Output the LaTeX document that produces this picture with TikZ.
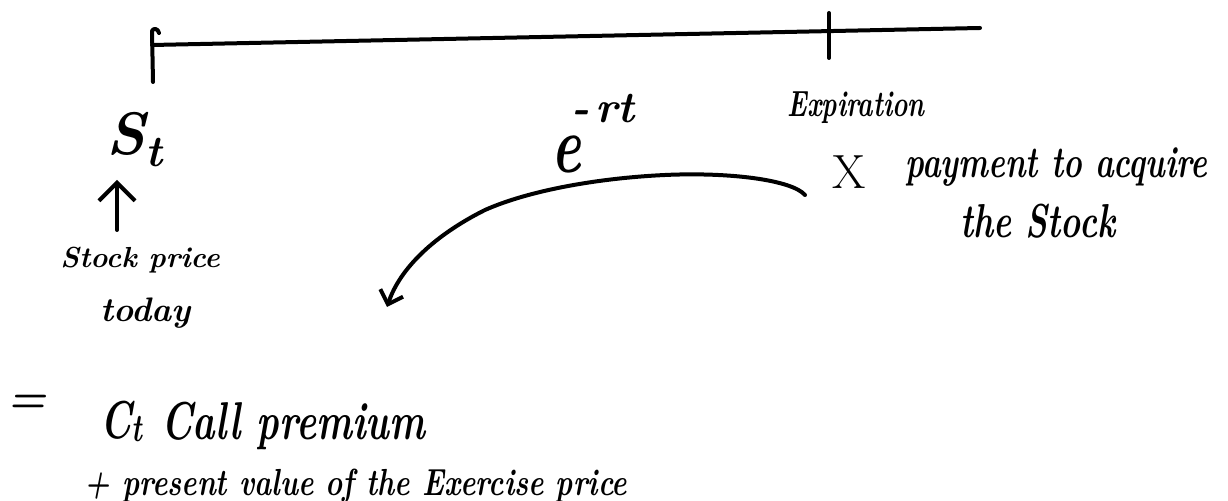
\documentclass[tikz,border=0pt]{standalone}
\usepackage{fontspec}
\usetikzlibrary{arrows.meta}
\newcommand{\fsz}[1]{\fontsize{#1}{#1}\selectfont}
\tikzset{
  hand/.style={font=\bfseries\itshape, inner sep=0pt, anchor=base west},
  pen/.style={line width=2pt, line cap=round, line join=round},
  barb/.style={-{Straight Barb[length=#1, width=2*#1, line width=2pt]}},
}
\begin{document}
\begin{tikzpicture}[x=0.5pt,y=-0.5pt]
\useasboundingbox (0,0) rectangle (1228,501);
% timeline
\coordinate (L) at (152,45);
\coordinate (R) at (980,28);
\coordinate (Ltop) at (152,31);
\coordinate (Lbot) at (153,82);
\coordinate (Ttop) at (829,13);
\coordinate (Tbot) at (829,58);
\draw[pen] (L) -- (R);
\draw[pen] (Lbot) -- (Ltop) .. controls (153,28) and (158,28) .. (159,33);
\draw[pen] (Ttop) -- (Tbot);
% today side
\node[hand] (St) at (106,155) {\fsz{30}S\raisebox{-6pt}{\fsz{22}t}};
\node[hand] (sp) at (60,268) {\fsz{14.5}Stock price};
\node[hand] (td) at (100,322) {\fsz{17}today};
\coordinate (a1) at (117,230);
\coordinate (a2) at (117,180);
\draw[pen, barb=9pt] (a1) -- (a2);
% expiration side
\node[hand] (ex) at (787,117) {\fsz{13}\scalebox{1}[1.4]{Expiration}};
\node[font=\fsz{24}, inner sep=0pt, anchor=base west] (X) at (832,189) {X};
\node[hand] (pay) at (905,178) {\fsz{15.8}\scalebox{1}[1.4]{payment to acquire}};
\node[hand] (stk) at (960,238) {\fsz{17}\scalebox{1}[1.4]{the Stock}};
\node[hand] (e) at (551,173) {\fsz{28}\scalebox{1}[1.45]{e}\kern-5pt\raisebox{25pt}{\fsz{22}-\hspace{3pt}rt}};
% discounting arrow
\coordinate (c1) at (805,195);
\coordinate (c2) at (387,307);
\draw[pen, barb=6pt] (c1) .. controls (792,180) and (730,172) .. (665,175)
  .. controls (600,178) and (530,190) .. (485,210)
  .. controls (435,235) and (400,268) .. (c2);
% result
\node[hand, anchor=center] (eq) at (27,404) {\fsz{22}=};
\node[hand] (Ct) at (100,439) {\fsz{19}\scalebox{1}[1.4]{C\raisebox{-1pt}{\fsz{14}t}}};
\node[hand] (cp) at (161,440) {\fsz{19}\scalebox{1}[1.4]{Call premium}};
\node[hand] (pv) at (84,496) {\fsz{14.5}\scalebox{1}[1.3]{+ present value of the Exercise price}};
\end{tikzpicture}
\end{document}
